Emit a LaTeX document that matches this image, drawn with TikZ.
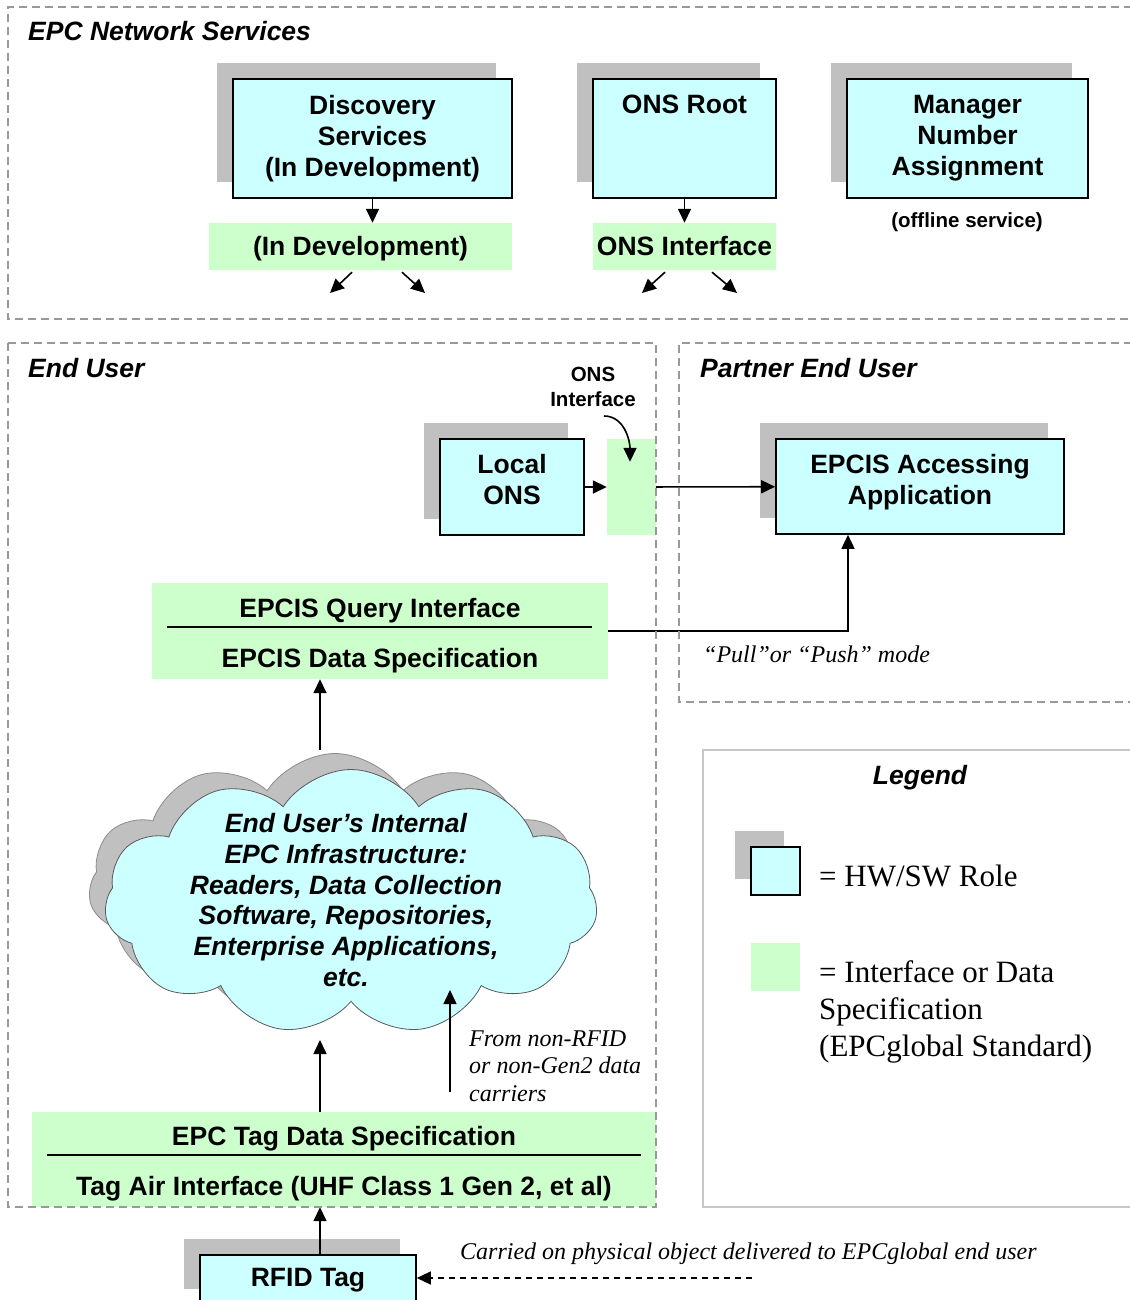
\documentclass[tikz,border=0pt]{standalone}
\usepackage{fontspec}
\setmainfont{Liberation Serif}
\setsansfont{Liberation Sans}
\usetikzlibrary{arrows.meta,shapes.symbols,shadows,calc}
\definecolor{rolecyan}{HTML}{CCFFFF}
\definecolor{ifgreen}{HTML}{CCFFCC}
\definecolor{shadegray}{HTML}{C0C0C0}
\definecolor{regiongray}{HTML}{999999}
\newcommand{\txtshift}[2]{\raisebox{#1}[\height][\depth]{\begin{tabular}{@{}c@{}}#2\end{tabular}}}
\begin{document}
\begin{tikzpicture}[x=1pt,y=-1pt,
 role/.style={draw=black, line width=1.6pt, fill=rolecyan, inner sep=0pt, align=center,
   font=\sffamily\bfseries\fontsize{26.5}{31}\selectfont,
   general shadow={fill=shadegray, shadow xshift=-16pt, shadow yshift=16pt}},
 iface/.style={fill=ifgreen, inner sep=0pt, align=center, font=\sffamily\bfseries\fontsize{26.5}{31}\selectfont},
 region/.style={draw=regiongray, line width=1.5pt, dash pattern=on 8pt off 5pt},
 regtitle/.style={font=\sffamily\bfseries\itshape\fontsize{26.5}{31}\selectfont, anchor=west, inner sep=0pt},
 notetxt/.style={font=\itshape\fontsize{24}{27.5}\selectfont, anchor=west, inner sep=0pt, align=left},
 legtxt/.style={font=\fontsize{31}{37}\selectfont, anchor=west, inner sep=0pt, align=left},
 smalllbl/.style={font=\sffamily\bfseries\fontsize{20.5}{25}\selectfont, inner sep=0pt, align=center},
 arr/.style={line width=1.6pt, -{Triangle[length=14pt,width=13pt]}},
]
\useasboundingbox (0,0) rectangle (1129,1300);

% ---------- EPC Network Services ----------
\node[regtitle] (t1) at (28,31) {EPC Network Services};
\node[role, minimum width=279pt, minimum height=119pt] (disc) at (372.5,138.5) {Discovery\\Services\\(In Development)};
\node[role, minimum width=183pt, minimum height=119pt] (onsroot) at (684.5,138.5) {\txtshift{0pt}{ONS Root\\\mbox{}\\\mbox{}}};
\node[role, minimum width=241pt, minimum height=119pt] (mgr) at (967.5,138.5) {Manager\\Number\\Assignment};
\node[smalllbl] (offl) at (967,222.5) {(offline service)};
\node[iface, minimum width=303pt, minimum height=47pt] (devif) at (360.5,246.5) {\txtshift{-3pt}{(In Development)}};
\node[iface, minimum width=183pt, minimum height=47pt] (onsif) at (684.5,246.5) {ONS Interface};
\draw[arr] (disc.south) -- (disc.south |- devif.north);
\draw[arr] (onsroot.south) -- (onsroot.south |- onsif.north);
\coordinate (d1) at (330,293);
\coordinate (d2) at (425,293);
\coordinate (o1) at (642,293);
\coordinate (o2) at (737,293);
\draw[arr] ($(devif.south)+(-8.5,2)$) -- (d1);
\draw[arr] ($(devif.south)+(41.5,2)$) -- (d2);
\draw[arr] ($(onsif.south)+(-19.5,2)$) -- (o1);
\draw[arr] ($(onsif.south)+(27.5,2)$) -- (o2);

% ---------- End User ----------
\node[regtitle] (t2) at (28,368) {End User};
\node[smalllbl] (onslbl) at (593,386.5) {ONS\\Interface};
\node[role, minimum width=144pt, minimum height=96pt] (lons) at (512,487) {\txtshift{4pt}{Local\\ONS}};
\node[iface, minimum width=49pt, minimum height=96pt] (lonsif) at (631.5,487) {};
\coordinate (cv) at (604,416);
\draw[arr] (cv) to[out=0,in=90] ($(lonsif.north)+(-1.5,23)$);
\draw[arr] (lons) -- (lonsif);

\node[iface, minimum width=456pt, minimum height=96pt] (qry) at (380,631)
  {\txtshift{-5pt}{EPCIS Query Interface\\[19pt]EPCIS Data Specification}};
\draw[line width=1.5pt] ($(qry.west)+(15,-4)$) -- ($(qry.east)+(-16,-4)$);

\node[cloud, cloud puffs=11, cloud puff arc=115, cloud ignores aspect, draw=black!65, line width=0.8pt,
  fill=rolecyan, minimum width=493pt, minimum height=265pt,
  general shadow={fill=shadegray, draw=black!45, shadow xshift=-16pt, shadow yshift=16pt}] (cld) at (351,902) {};
\node[font=\sffamily\bfseries\itshape\fontsize{26.5}{30.8}\selectfont, align=center, inner sep=0pt] (cldtxt) at (346,900)
  {End User’s Internal\\EPC Infrastructure:\\Readers, Data Collection\\Software, Repositories,\\Enterprise Applications,\\etc.};
\coordinate (ctop) at (320,750);
\draw[arr] (ctop) -- (ctop |- qry.south);

\node[iface, minimum width=624pt, minimum height=95pt] (tag) at (344,1159.5)
  {\txtshift{-5pt}{EPC Tag Data Specification\\[19pt]Tag Air Interface (UHF Class 1 Gen 2, et al)}};
\draw[line width=1.5pt] ($(tag.west)+(15,-4.5)$) -- ($(tag.east)+(-15,-4.5)$);
\coordinate (cbot) at (320,1040);
\draw[arr] (cbot |- tag.north) -- (cbot);
\coordinate (nr) at (450,1092);
\coordinate (nrtip) at (450,990);
\draw[arr] (nr) -- (nrtip);
\node[notetxt] (nrtxt) at (469,1066) {From non-RFID\\or non-Gen2 data\\carriers};

% ---------- Partner End User ----------
\node[regtitle] (t3) at (700,368) {Partner End User};
\node[role, minimum width=288pt, minimum height=95pt] (acc) at (920,486.5) {\txtshift{4pt}{EPCIS Accessing\\Application}};
\draw[arr] (lonsif) -- (acc);
\coordinate (pp) at (848,631);
\draw[arr] (qry.east) -- (pp) -- (pp |- acc.south);
\node[notetxt] (ppl) at (703,654) {“Pull”or “Push” mode};

% ---------- Legend ----------
\draw[draw=black!22, line width=2pt] (703,750) rectangle (1145,1207);
\node[regtitle, anchor=center] (leg) at (920,777.5) {Legend};
\node[role, minimum width=49pt, minimum height=48pt] (lg1) at (775.5,871) {};
\node[iface, minimum width=49pt, minimum height=48pt] (lg2) at (775.5,967) {};
\node[legtxt] (lgt1) at (819,876) {= HW/SW Role};
\node[legtxt] (lgt2) at (819,1012) {= Interface or Data\\Specification\\(EPCglobal Standard)};

% ---------- RFID Tag ----------
\node[role, minimum width=216pt, minimum height=50pt] (rfid) at (308,1280) {RFID Tag};
\coordinate (rt) at (320,1255);
\draw[arr] (rt) -- (rt |- tag.south);
\coordinate (cr) at (752,1278);
\draw[arr, line width=1.3pt, dash pattern=on 6pt off 5pt] (cr) -- (cr -| rfid.east);
\node[notetxt] (carr) at (460,1254) {Carried on physical object delivered to EPCglobal end user};

% ---------- region outlines ----------
\draw[region] (1145,7) -- (8,7) -- (8,319) -- (1145,319);
\draw[region] (8,343) rectangle (656,1207);
\draw[region] (1145,343) -- (679,343) -- (679,702) -- (1145,702);
\end{tikzpicture}
\end{document}
